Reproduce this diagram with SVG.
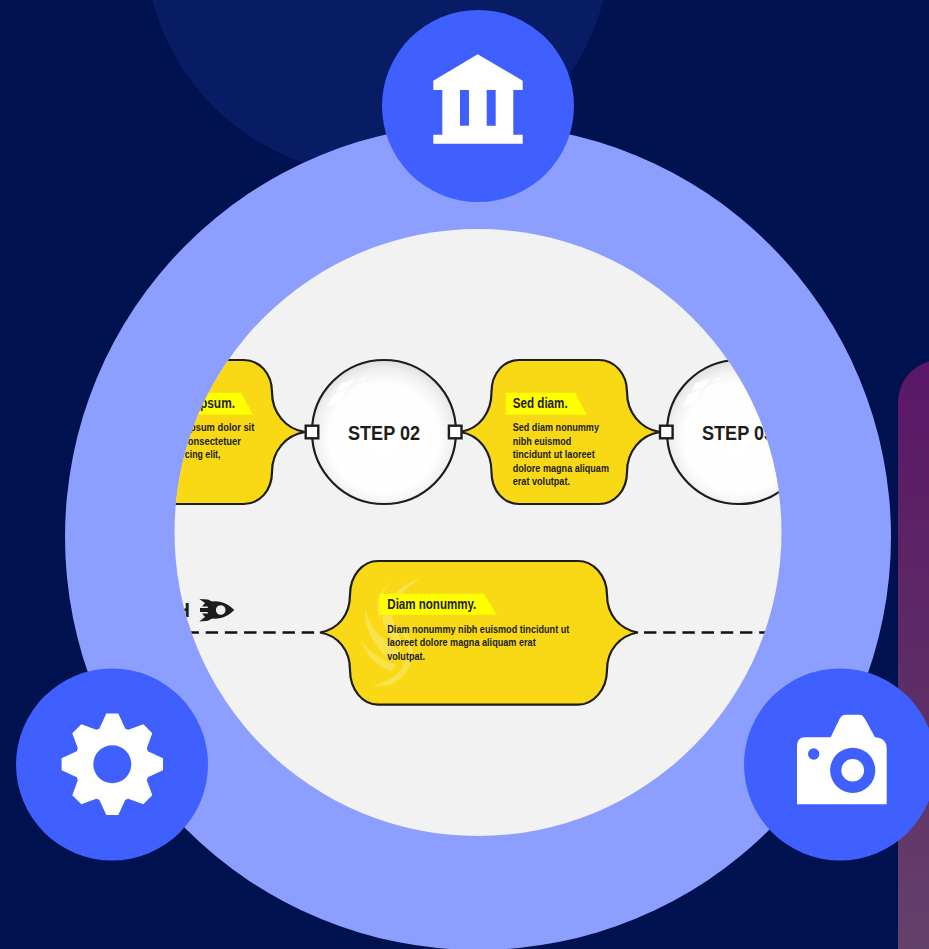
<svg xmlns="http://www.w3.org/2000/svg" width="929" height="949" viewBox="0 0 929 949">
<style>
.ln{stroke:#1d1d1b;stroke-width:2.2}
.box{fill:#f9d916}
.hl{fill:#ffff00}
.bubble{fill:url(#glass)}
.sq{fill:#fff;stroke:#1d1d1b;stroke-width:2.4}
.step{font:bold 21px "Liberation Sans",Arial,sans-serif;fill:#1d1d1b}
.ttl{font:bold 14.5px "Liberation Sans",Arial,sans-serif;fill:#1d1d1b}
.txt{font:bold 10.6px "Liberation Sans",Arial,sans-serif;fill:#1d1d1b}
.end{text-anchor:end}
.disc{fill:#3f5fff}
.ico{fill:#fff}
.sw{fill:#fff;opacity:.24}
.dash{fill:none;stroke:#111;stroke-width:2.5;stroke-dasharray:12.4 6.8}
</style>
<defs>
<radialGradient id="glass" cx=".5" cy=".54" r=".54">
<stop offset="0" stop-color="#fff"/><stop offset=".7" stop-color="#fefefe"/><stop offset=".88" stop-color="#f0f0f0"/><stop offset="1" stop-color="#dedede"/>
</radialGradient>
<linearGradient id="panel" x1="0" y1="0" x2="0" y2="1">
<stop offset="0" stop-color="#5b1668"/><stop offset=".45" stop-color="#5d2a66"/><stop offset="1" stop-color="#65456c"/>
</linearGradient>
<clipPath id="inner"><circle cx="478" cy="532.5" r="303.5"/></clipPath>
<path id="blob" d="M660 432C640 429 627 412 627 392C627 373 614 360 599 360L519 360C504 360 491.5 373 491.5 392C491.5 412 480 429 460 432C480 435 491.5 452 491.5 472C491.5 491 504 504 519 504L599 504C614 504 627 491 627 472C627 452 640 435 660 432Z"/>
<g id="shine" fill="#fff" opacity=".9">
<path d="M-57 -25L-50 -38L-37 -43L-44 -30Z"/>
<path d="M-48 -40L-43 -49L-29 -53L-35 -45Z"/>
<path d="M-35 -41L-29 -47L-17 -50L-26 -44Z"/>
<path d="M-27 -50L-14 -59L-20 -52Z"/>
</g>
</defs>

<rect width="929" height="949" fill="#00114f"/>
<circle cx="378" cy="-58" r="233" fill="#071c64"/>
<rect x="898" y="360" width="120" height="640" rx="42" fill="url(#panel)"/>
<circle cx="478" cy="537" r="413" fill="#8c9fff"/>
<circle cx="478" cy="532.5" r="303.5" fill="#f2f2f2"/>

<g clip-path="url(#inner)">
<g id="connectors">
<path class="dash" d="M186.5 632.5H320"/>
<path class="dash" d="M644 632.5H770"/>
</g>

<g id="box-lorem">
<use href="#blob" x="-355" class="box ln"/>
<path class="hl" d="M150 392.7H241L253 414.7H150Z"/>
<text class="ttl end" x="235" y="408" textLength="35" lengthAdjust="spacingAndGlyphs">psum.</text>
<text class="txt end" x="254.300" y="431" textLength="64.300" lengthAdjust="spacingAndGlyphs">psum dolor sit</text>
<text class="txt end" x="241" y="444.5" textLength="53.300" lengthAdjust="spacingAndGlyphs">onsectetuer</text>
<text class="txt end" x="220.500" y="458" textLength="35.700" lengthAdjust="spacingAndGlyphs">cing elit,</text>
</g>

<g id="step-02">
<circle class="bubble ln" cx="384" cy="432" r="72"/>
<use href="#shine" x="384" y="432"/>
<text class="step" x="348" y="439.5" textLength="72" lengthAdjust="spacingAndGlyphs">STEP 02</text>
</g>

<g id="box-sed">
<use href="#blob" class="box ln"/>
<path class="hl" d="M505.7 392.7H575L586.7 414.7H505.7Z"/>
<text class="ttl" x="512.7" y="408" textLength="55" lengthAdjust="spacingAndGlyphs">Sed diam.</text>
<text class="txt" x="512.7" y="431" textLength="86.3" lengthAdjust="spacingAndGlyphs">Sed diam nonummy</text>
<text class="txt" x="512.7" y="444.5" textLength="58.7" lengthAdjust="spacingAndGlyphs">nibh euismod</text>
<text class="txt" x="512.7" y="458" textLength="82" lengthAdjust="spacingAndGlyphs">tincidunt ut laoreet</text>
<text class="txt" x="512.7" y="471.5" textLength="96.3" lengthAdjust="spacingAndGlyphs">dolore magna aliquam</text>
<text class="txt" x="512.7" y="485" textLength="57.3" lengthAdjust="spacingAndGlyphs">erat volutpat.</text>
</g>

<g id="step-03">
<circle class="bubble ln" cx="739" cy="432" r="72"/>
<use href="#shine" x="739" y="432"/>
<text class="step" x="702" y="439.5" textLength="72" lengthAdjust="spacingAndGlyphs">STEP 03</text>
</g>

<g id="ports">
<rect class="sq" x="305.7" y="425.7" width="12.6" height="12.6"/>
<rect class="sq" x="448.9" y="425.7" width="12.6" height="12.6"/>
<rect class="sq" x="660" y="425.7" width="12.6" height="12.6"/>
</g>

<g id="launch">
<text x="190" y="617" text-anchor="end" font-family="Liberation Sans, Arial, sans-serif" font-weight="bold" font-size="20" fill="#1d1d1b">H</text>
<path fill="#1d1d1b" fill-rule="evenodd" d="M209 602C220 599.500 228 604 234.300 610C228 616 220 620.500 209 618C207 613 207 607 209 602ZM220.700 605.200A4.800 4.800 0 1 0 220.710 614.800A4.800 4.800 0 1 0 220.700 605.200Z"/>
<path fill="#1d1d1b" d="M199.300 599L208 599.500L213 602L209 606.500L202 606.500L205 603ZM199.300 621.500L208 620.700L213 618L209 613.500L202 613.500L205 617ZM200 608H209V612H200Z"/>
</g>

<g id="box-diam">
<path class="box ln" d="M638 632.5C620 629.5 607 615 607 595C607 575 593 561 578 561L378 561C363 561 350 575 350 595C350 615 338 629.5 320 632.5C338 635.500 350 650 350 670C350 690 363 704.700 378 704.700L578 704.700C593 704.700 607 690 607 670C607 650 620 635.500 638 632.500Z"/>
<path class="sw" d="M420 579C402 584 386 598 383 616C381 632 396 640 402 651C405 640 392 628 392 613C392 600 404 589 420 579Z"/>
<path class="sw" d="M390 583C380 593 377 607 381 622C375 611 375 595 390 583Z"/>
<path class="sw" d="M365 608C370 628 382 641 400 650C396 657 392 660 388 658C376 648 364 630 365 608Z"/>
<path class="sw" d="M361 640C370 653 382 661 396 664L392 671C378 667 366 656 361 640Z"/>
<path class="sw" d="M372 685C395 681 409 668 407 645C405 636 400 630 398 625C410 632 415 648 412 660C406 679 390 690 372 685Z"/>
<path class="hl" d="M379.3 593.7H484L496.7 614.7H379.3Z"/>
<text class="ttl" x="387.3" y="609" textLength="89" lengthAdjust="spacingAndGlyphs">Diam nonummy.</text>
<text class="txt" x="387.3" y="632.5" textLength="182" lengthAdjust="spacingAndGlyphs">Diam nonummy nibh euismod tincidunt ut</text>
<text class="txt" x="387.3" y="646" textLength="148.4" lengthAdjust="spacingAndGlyphs">laoreet dolore magna aliquam erat</text>
<text class="txt" x="387.3" y="659.5" textLength="37.7" lengthAdjust="spacingAndGlyphs">volutpat.</text>
</g>
</g>

<g id="node-bank">
<circle class="disc" cx="478" cy="106" r="96"/>
<path class="ico" fill-rule="evenodd" d="M477.7 54.3L522.7 80.7V90H513.3V134.7H522.7V143.7H433.3V134.7H442.3V90H433.3V80.7ZM460 90V125.7H469V90ZM486.7 90V125.7H495.7V90Z"/>
</g>

<g id="node-gear">
<circle class="disc" cx="112" cy="764.5" r="96"/>
<path class="ico" fill-rule="evenodd" transform="translate(112.3 764.3)" d="M-6 -50.7H6L13 -35.5L16 -34.5L31 -40L40 -31L34.5 -16L35.5 -13L50.7 -6V6L35.5 13L34.5 16L40 31L31 40L16 34.5L13 35.5L6 50.7H-6L-13 35.5L-16 34.5L-31 40L-40 31L-34.5 16L-35.5 13L-50.7 6V-6L-35.5 -13L-34.5 -16L-40 -31L-31 -40L-16 -34.5L-13 -35.5ZM19 0A19 19 0 1 0 -19 0A19 19 0 1 0 19 0Z"/>
</g>

<g id="node-camera">
<circle class="disc" cx="840" cy="764.5" r="96"/>
<path class="ico" d="M805 737.3H830.7L839.5 719Q841.5 714.7 846 714.7H859Q863 714.7 865 719L875 737.3Q886.7 738 886.7 749V804.3H797V746Q797 737.3 805 737.3Z"/>
<circle class="disc" cx="852.7" cy="770.3" r="22.6"/>
<circle class="ico" cx="852.7" cy="770.3" r="11.3"/>
<circle class="disc" cx="813.7" cy="754" r="5.7"/>
</g>
</svg>
